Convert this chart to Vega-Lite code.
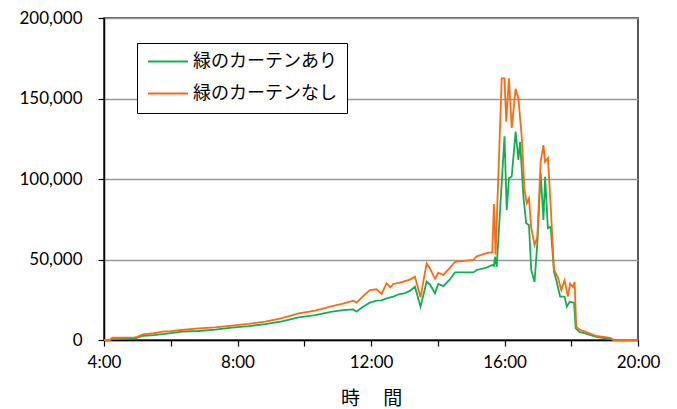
{
  "$schema": "https://vega.github.io/schema/vega-lite/v6.json",
  "width": 534,
  "height": 322,
  "autosize": "none",
  "padding": {"left": 104, "top": 18, "right": 39, "bottom": 69},
  "background": "white",
  "config": {
    "font": "Lato",
    "view": {"stroke": "#222222", "strokeWidth": 1.5}
  },
  "encoding": {
    "x": {
      "field": "t",
      "type": "temporal",
      "scale": {
        "type": "utc",
        "domain": [
          {"year": 1900, "month": 1, "date": 1, "hours": 4, "utc": true},
          {"year": 1900, "month": 1, "date": 1, "hours": 20, "utc": true}
        ]
      },
      "axis": {
        "title": "時　 間",
        "titleFont": "Noto Sans CJK JP",
        "titleFontSize": 19,
        "titleFontWeight": "normal",
        "titleColor": "#000000",
        "titlePadding": 19,
        "values": [
          {"year": 1900, "month": 1, "date": 1, "hours": 4, "utc": true},
          {"year": 1900, "month": 1, "date": 1, "hours": 6, "utc": true},
          {"year": 1900, "month": 1, "date": 1, "hours": 8, "utc": true},
          {"year": 1900, "month": 1, "date": 1, "hours": 10, "utc": true},
          {"year": 1900, "month": 1, "date": 1, "hours": 12, "utc": true},
          {"year": 1900, "month": 1, "date": 1, "hours": 14, "utc": true},
          {"year": 1900, "month": 1, "date": 1, "hours": 16, "utc": true},
          {"year": 1900, "month": 1, "date": 1, "hours": 18, "utc": true},
          {"year": 1900, "month": 1, "date": 1, "hours": 20, "utc": true}
        ],
        "labelExpr": "utchours(datum.value) % 4 == 0 ? utcFormat(datum.value, '%-H:%M') : ''",
        "labelFontSize": 17,
        "labelColor": "#000000",
        "labelPadding": 8,
        "labelFlush": false,
        "labelOverlap": false,
        "grid": false,
        "domainColor": "#000000",
        "domainWidth": 1.5,
        "tickColor": "#000000",
        "tickWidth": 1.2,
        "tickSize": 6
      }
    },
    "y": {
      "field": "v",
      "type": "quantitative",
      "scale": {"domain": [0, 200000], "nice": false},
      "axis": {
        "title": null,
        "values": [0, 50000, 100000, 150000, 200000],
        "format": ",d",
        "labelFontSize": 17,
        "labelColor": "#000000",
        "labelPadding": 16,
        "grid": true,
        "gridColor": "#999999",
        "gridWidth": 1.5,
        "domainColor": "#000000",
        "domainWidth": 1.5,
        "tickColor": "#000000",
        "tickWidth": 1.2,
        "tickSize": 6
      }
    }
  },
  "layer": [
    {
      "data": {
        "values": [
          {"t": "04:00", "v": 0}, {"t": "04:10", "v": 0}, {"t": "04:15", "v": 600}, {"t": "04:55", "v": 900},
          {"t": "05:00", "v": 1400}, {"t": "05:10", "v": 2500}, {"t": "05:30", "v": 3000}, {"t": "05:45", "v": 3700},
          {"t": "06:00", "v": 4300}, {"t": "06:20", "v": 5200}, {"t": "06:50", "v": 5600}, {"t": "07:20", "v": 6500},
          {"t": "07:50", "v": 7700}, {"t": "08:20", "v": 8600}, {"t": "08:50", "v": 9900}, {"t": "09:20", "v": 11600},
          {"t": "09:50", "v": 14100}, {"t": "10:20", "v": 15400}, {"t": "10:50", "v": 17600}, {"t": "11:10", "v": 18500},
          {"t": "11:28", "v": 19000}, {"t": "11:34", "v": 17600}, {"t": "11:45", "v": 20500}, {"t": "11:58", "v": 23200},
          {"t": "12:10", "v": 24400}, {"t": "12:19", "v": 24600}, {"t": "12:28", "v": 25900}, {"t": "12:40", "v": 27000},
          {"t": "12:50", "v": 28400}, {"t": "13:00", "v": 29000}, {"t": "13:10", "v": 30500}, {"t": "13:19", "v": 33100},
          {"t": "13:29", "v": 20700}, {"t": "13:40", "v": 36200}, {"t": "13:46", "v": 34500}, {"t": "13:55", "v": 29000},
          {"t": "14:01", "v": 34800}, {"t": "14:10", "v": 33500}, {"t": "14:21", "v": 37300}, {"t": "14:31", "v": 42000},
          {"t": "15:04", "v": 42000}, {"t": "15:10", "v": 43500}, {"t": "15:28", "v": 45000}, {"t": "15:38", "v": 46600},
          {"t": "15:41", "v": 46000}, {"t": "15:43", "v": 51700}, {"t": "15:46", "v": 45500}, {"t": "16:00", "v": 126500},
          {"t": "16:04", "v": 80700}, {"t": "16:08", "v": 100400}, {"t": "16:13", "v": 101500}, {"t": "16:20", "v": 129400},
          {"t": "16:25", "v": 111800}, {"t": "16:28", "v": 123000}, {"t": "16:34", "v": 89000}, {"t": "16:39", "v": 72500},
          {"t": "16:44", "v": 71400}, {"t": "16:48", "v": 43500}, {"t": "16:54", "v": 36000}, {"t": "16:59", "v": 60000},
          {"t": "17:05", "v": 103500}, {"t": "17:10", "v": 74500}, {"t": "17:13", "v": 101400}, {"t": "17:18", "v": 69400},
          {"t": "17:23", "v": 70400}, {"t": "17:29", "v": 42400}, {"t": "17:33", "v": 37300}, {"t": "17:40", "v": 27000},
          {"t": "17:48", "v": 27000}, {"t": "17:52", "v": 20700}, {"t": "17:57", "v": 23800}, {"t": "18:05", "v": 23200},
          {"t": "18:08", "v": 7200}, {"t": "18:15", "v": 5000}, {"t": "18:25", "v": 4100}, {"t": "18:45", "v": 2000},
          {"t": "19:10", "v": 600}, {"t": "19:17", "v": 0}, {"t": "20:00", "v": 0}
        ],
        "format": {"parse": {"t": "utc:'%H:%M'"}}
      },
      "mark": {"type": "line", "strokeWidth": 1.8},
      "encoding": {
        "color": {
          "datum": "緑のカーテンあり",
          "scale": {
            "domain": ["緑のカーテンあり", "緑のカーテンなし"],
            "range": ["#10B050", "#FF6A10"]
          },
          "legend": {
            "title": null,
            "orient": "none",
            "legendX": 33,
            "legendY": 25,
            "direction": "vertical",
            "symbolType": "stroke",
            "symbolSize": 1600,
            "symbolStrokeWidth": 2,
            "clipHeight": 17,
            "labelFont": "Noto Sans CJK JP",
            "labelFontSize": 18,
            "labelColor": "#000000",
            "labelLimit": 400,
            "labelOffset": 4,
            "rowPadding": 13,
            "padding": 10,
            "strokeColor": "#000000",
            "fillColor": "#ffffff"
          }
        }
      }
    },
    {
      "data": {
        "values": [
          {"t": "04:00", "v": 0}, {"t": "04:10", "v": 0}, {"t": "04:15", "v": 1400}, {"t": "04:55", "v": 1600},
          {"t": "05:00", "v": 2000}, {"t": "05:10", "v": 3500}, {"t": "05:30", "v": 4200}, {"t": "05:45", "v": 5200},
          {"t": "06:00", "v": 5500}, {"t": "06:20", "v": 6200}, {"t": "06:50", "v": 7200}, {"t": "07:20", "v": 7900},
          {"t": "07:50", "v": 8900}, {"t": "08:20", "v": 10000}, {"t": "08:50", "v": 11400}, {"t": "09:20", "v": 13600},
          {"t": "09:50", "v": 16600}, {"t": "10:20", "v": 18300}, {"t": "10:50", "v": 21100}, {"t": "11:10", "v": 22600},
          {"t": "11:28", "v": 24400}, {"t": "11:34", "v": 23200}, {"t": "11:45", "v": 27000}, {"t": "11:58", "v": 31000},
          {"t": "12:10", "v": 31500}, {"t": "12:19", "v": 28600}, {"t": "12:28", "v": 35200}, {"t": "12:35", "v": 32700},
          {"t": "12:40", "v": 34800}, {"t": "12:50", "v": 35500}, {"t": "12:58", "v": 36200}, {"t": "13:10", "v": 37500},
          {"t": "13:19", "v": 39300}, {"t": "13:29", "v": 26500}, {"t": "13:40", "v": 47600}, {"t": "13:46", "v": 44500},
          {"t": "13:55", "v": 38000}, {"t": "14:01", "v": 41800}, {"t": "14:10", "v": 40400}, {"t": "14:21", "v": 44500},
          {"t": "14:31", "v": 48600}, {"t": "15:04", "v": 49700}, {"t": "15:10", "v": 52000}, {"t": "15:28", "v": 54000},
          {"t": "15:38", "v": 54500}, {"t": "15:41", "v": 84500}, {"t": "15:44", "v": 53000}, {"t": "15:55", "v": 162500},
          {"t": "16:00", "v": 162500}, {"t": "16:03", "v": 135600}, {"t": "16:08", "v": 162500}, {"t": "16:13", "v": 131700},
          {"t": "16:20", "v": 156000}, {"t": "16:25", "v": 150000}, {"t": "16:31", "v": 126000}, {"t": "16:36", "v": 93000},
          {"t": "16:40", "v": 85000}, {"t": "16:44", "v": 88000}, {"t": "16:48", "v": 70000}, {"t": "16:54", "v": 59000},
          {"t": "16:59", "v": 64000}, {"t": "17:05", "v": 110700}, {"t": "17:10", "v": 121000}, {"t": "17:13", "v": 110700},
          {"t": "17:18", "v": 113000}, {"t": "17:23", "v": 83000}, {"t": "17:29", "v": 43500}, {"t": "17:36", "v": 39000},
          {"t": "17:42", "v": 31000}, {"t": "17:48", "v": 37000}, {"t": "17:54", "v": 27000}, {"t": "17:58", "v": 35000},
          {"t": "18:03", "v": 33000}, {"t": "18:06", "v": 36000}, {"t": "18:09", "v": 8300}, {"t": "18:15", "v": 6500},
          {"t": "18:25", "v": 5200}, {"t": "18:45", "v": 2500}, {"t": "19:10", "v": 1400}, {"t": "19:17", "v": 0},
          {"t": "20:00", "v": 0}
        ],
        "format": {"parse": {"t": "utc:'%H:%M'"}}
      },
      "mark": {"type": "line", "strokeWidth": 1.8},
      "encoding": {
        "color": {"datum": "緑のカーテンなし"}
      }
    }
  ]
}
